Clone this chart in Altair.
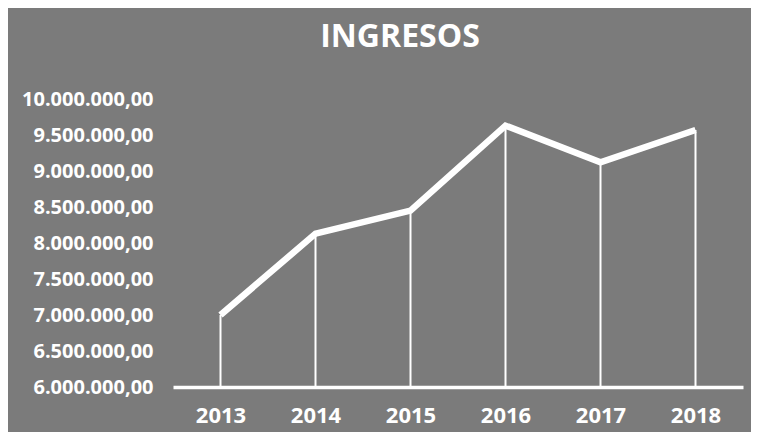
import altair as alt
import pandas as pd

years = ["2013", "2014", "2015", "2016", "2017", "2018"]
ingresos = [7000000, 8130000, 8450000, 9630000, 9120000, 9570000]
y_ticks = [6000000, 6500000, 7000000, 7500000, 8000000, 8500000,
           9000000, 9500000, 10000000]
title_text = "INGRESOS"

df = pd.DataFrame({"year": years, "value": ingresos, "base": [6000000] * len(years)})

FONT = "Open Sans"
label_expr = ("replace(replace(replace(format(datum.value, ',.2f'), regexp(',', 'g'), '_'),"
              " '.', ','), regexp('_', 'g'), '.')")

x_scale = alt.Scale(type="point", padding=0.5)
x_axis = alt.Axis(title=None, labelAngle=0, ticks=False, tickSize=0,
                  domain=True, domainColor="white", domainWidth=3.5,
                  labelColor="white", labelFont=FONT, labelFontSize=22,
                  labelFontWeight="bold", labelPadding=18, grid=False,
                  labelOverlap=False)
y_scale = alt.Scale(domain=[6000000, 10000000], nice=False, zero=False)
y_axis = alt.Axis(title=None, values=y_ticks, labelExpr=label_expr,
                  ticks=False, tickSize=0, domain=False, grid=False,
                  labelColor="white", labelFont=FONT, labelFontSize=20,
                  labelFontWeight="bold", labelPadding=20,
                  labelOverlap=False, labelBound=False)

base = alt.Chart(df)

rules = base.mark_rule(color="white", strokeWidth=2).encode(
    x=alt.X("year:O", scale=x_scale, axis=x_axis),
    y=alt.Y("value:Q", scale=y_scale, axis=y_axis),
    y2="base:Q",
)

line = base.mark_line(color="white", strokeWidth=6.5, strokeJoin="miter").encode(
    x=alt.X("year:O", scale=x_scale, axis=x_axis),
    y=alt.Y("value:Q", scale=y_scale, axis=y_axis),
)

title = alt.Chart(pd.DataFrame({"t": [title_text]})).mark_text(
    color="white", font=FONT, fontSize=32, fontWeight="bold",
    align="center", baseline="alphabetic",
).encode(text="t:N", x=alt.value(227), y=alt.value(-52))

chart = (rules + line + title).properties(
    width=570,
    height=288,
    autosize=alt.AutoSizeParams(type="none"),
    padding={"left": 165, "top": 91, "right": 8, "bottom": 45},
    background="#7b7b7b",
).configure_view(stroke=None)

chart.save("out.html", embed_options={"renderer": "svg", "actions": False})
